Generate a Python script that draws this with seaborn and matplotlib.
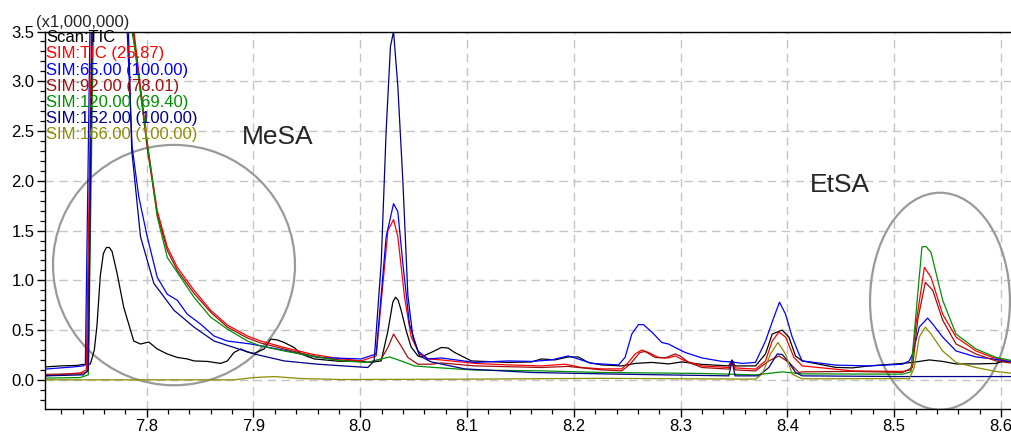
import pandas as pd
import matplotlib
matplotlib.use("Agg")
import matplotlib.pyplot as plt
import seaborn as sns
from matplotlib.patches import Ellipse
from matplotlib.ticker import MultipleLocator, FormatStrFormatter


TRACES = ["Scan:TIC", "SIM:TIC", "SIM:65", "SIM:92", "SIM:120", "SIM:152", "SIM:166"]
LEGEND_LABELS = [
    "Scan:TIC",
    "SIM:TIC (25.87)",
    "SIM:65.00 (100.00)",
    "SIM:92.00 (78.01)",
    "SIM:120.00 (69.40)",
    "SIM:152.00 (100.00)",
    "SIM:166.00 (100.00)",
]
COLORS = ["#000000", "#ff0000", "#0000ff", "#a00f0f", "#008f00", "#00008b", "#8c8c00"]

# retention time (min) / intensity (x1,000,000)
scan_tic_t = [7.705, 7.720, 7.735, 7.740, 7.744, 7.7473, 7.7510, 7.7535, 7.7566, 7.7595, 7.7623,
              7.7650, 7.7676, 7.7723, 7.7785, 7.7879, 7.7942, 7.802, 7.8099, 7.8193, 7.8287, 7.838,
              7.8443, 7.8568, 7.8693, 7.8756, 7.8818, 7.8881, 7.8944, 7.9006, 7.910, 7.9163, 7.9226,
              7.9288, 7.9381, 7.9444, 7.957, 7.982, 8.0008, 8.0071, 8.013, 8.0196, 8.0259, 8.0305,
              8.033, 8.0355, 8.0383, 8.0431, 8.0477, 8.054, 8.0571, 8.0665, 8.0759, 8.0822, 8.0884,
              8.1041, 8.1385, 8.1604, 8.1698, 8.1823, 8.1948, 8.2042, 8.2136, 8.2261, 8.2449, 8.2574,
              8.2731, 8.2887, 8.3012, 8.320, 8.3451, 8.3482, 8.351, 8.3701, 8.3795, 8.3858, 8.3951,
              8.4014, 8.4076, 8.4139, 8.4452, 8.4609, 8.4765, 8.5078, 8.5172, 8.5329, 8.5454, 8.5579,
              8.5766, 8.5954, 8.6017, 8.612]
scan_tic_y = [0.13, 0.14, 0.145, 0.155, 0.15, 0.16, 0.30, 0.55, 1.05, 1.27, 1.33,
              1.33, 1.29, 1.07, 0.73, 0.39, 0.36, 0.38, 0.31, 0.26, 0.225, 0.21,
              0.19, 0.185, 0.165, 0.19, 0.275, 0.31, 0.28, 0.265, 0.31, 0.41, 0.40,
              0.375, 0.325, 0.26, 0.21, 0.185, 0.19, 0.175, 0.18, 0.19, 0.49, 0.78,
              0.83, 0.80, 0.70, 0.49, 0.33, 0.24, 0.23, 0.275, 0.325, 0.32, 0.275,
              0.19, 0.175, 0.18, 0.21, 0.20, 0.23, 0.23, 0.175, 0.15, 0.14, 0.165,
              0.175, 0.16, 0.18, 0.155, 0.14, 0.20, 0.14, 0.14, 0.26, 0.46, 0.50,
              0.43, 0.24, 0.19, 0.125, 0.12, 0.14, 0.165, 0.175, 0.20, 0.185, 0.16,
              0.16, 0.165, 0.185, 0.19]

sim_tic_t = [7.705, 7.7379, 7.7435, 7.748, 7.750, 7.7879, 7.8005, 7.8099, 7.8193, 7.8287, 7.8443,
             7.8599, 7.8756, 7.8944, 7.9069, 7.9288, 7.9538, 7.9757, 8.0008, 8.0149, 8.0259,
             8.0312, 8.0352, 8.0415, 8.0477, 8.0556, 8.0634, 8.0759, 8.1072, 8.1385, 8.1698,
             8.1917, 8.2073, 8.2261, 8.2449, 8.2511, 8.2574, 8.2637, 8.2699, 8.2793, 8.2887,
             8.2949, 8.3043, 8.320, 8.3451, 8.3482, 8.351, 8.3701, 8.3795, 8.3858, 8.3921,
             8.3983, 8.4061, 8.4139, 8.4609, 8.5078, 8.5157, 8.5204, 8.5283, 8.5345, 8.5454,
             8.5579, 8.5766, 8.5923, 8.612]
sim_tic_y = [0.04, 0.07, 0.10, 3.2, 6.0, 3.52, 2.38, 1.70, 1.335, 1.13, 0.90,
             0.70, 0.55, 0.44, 0.39, 0.325, 0.26, 0.22, 0.19, 0.24, 1.50,
             1.61, 1.44, 0.83, 0.43, 0.26, 0.21, 0.20, 0.165, 0.15, 0.14,
             0.157, 0.124, 0.11, 0.11, 0.175, 0.26, 0.30, 0.275, 0.225, 0.22,
             0.24, 0.19, 0.14, 0.124, 0.185, 0.12, 0.108, 0.19, 0.39, 0.48,
             0.43, 0.225, 0.14, 0.09, 0.084, 0.10, 0.56, 1.13, 1.03, 0.66,
             0.43, 0.29, 0.225, 0.175]

sim_65_t = [7.705, 7.7316, 7.7407, 7.7426, 7.747, 7.749, 7.7817, 7.7864, 7.7926, 7.8005, 7.8099,
            7.8193, 7.8287, 7.838, 7.8505, 7.8631, 7.8756, 7.8975, 7.932, 7.9601, 8.0008, 8.0149,
            8.0243, 8.0312, 8.0352, 8.0399, 8.0461, 8.054, 8.0634, 8.0759, 8.1072, 8.1385, 8.1604,
            8.1792, 8.1948, 8.2011, 8.2167, 8.2418, 8.248, 8.2543, 8.2605, 8.2652, 8.2731, 8.2824,
            8.2887, 8.2949, 8.3043, 8.320, 8.3388, 8.3482, 8.3576, 8.3701, 8.3795, 8.3874, 8.3926,
            8.3983, 8.4045, 8.4108, 8.4139, 8.4452, 8.4765, 8.5078, 8.5141, 8.5172, 8.5235, 8.5313,
            8.5361, 8.5454, 8.5579, 8.5766, 8.5923, 8.612]
sim_65_y = [0.108, 0.13, 0.14, 0.16, 3.6, 6.5, 3.52, 2.34, 1.84, 1.44, 1.03,
            0.86, 0.80, 0.66, 0.56, 0.44, 0.39, 0.36, 0.29, 0.225, 0.21, 0.26,
            1.44, 1.77, 1.69, 1.17, 0.56, 0.29, 0.21, 0.22, 0.175, 0.19, 0.185,
            0.20, 0.24, 0.22, 0.165, 0.15, 0.225, 0.46, 0.555, 0.555, 0.48, 0.375,
            0.36, 0.325, 0.275, 0.22, 0.185, 0.18, 0.165, 0.175, 0.39, 0.63, 0.78,
            0.66, 0.43, 0.26, 0.19, 0.148, 0.14, 0.157, 0.19, 0.26, 0.53, 0.62,
            0.56, 0.43, 0.29, 0.23, 0.21, 0.175]

sim_92_t = [7.705, 7.7379, 7.7444, 7.749, 7.751, 7.7879, 7.8005, 7.8099, 7.8193, 7.8287, 7.8443,
            7.8599, 7.8756, 7.8944, 7.9069, 7.9288, 7.9538, 7.9757, 8.0071, 8.0196, 8.0259,
            8.0312, 8.0383, 8.0446, 8.054, 8.0665, 8.0759, 8.1072, 8.1698, 8.1948, 8.2261,
            8.2449, 8.2527, 8.262, 8.2667, 8.2762, 8.2855, 8.2949, 8.2996, 8.3075, 8.320,
            8.3451, 8.3482, 8.351, 8.3701, 8.3826, 8.3921, 8.4014, 8.4108, 8.4139, 8.4609,
            8.5078, 8.5172, 8.522, 8.5292, 8.5361, 8.5454, 8.5579, 8.5766, 8.5954, 8.612]
sim_92_y = [0.055, 0.06, 0.08, 3.4, 5.5, 3.45, 2.33, 1.66, 1.30, 1.10, 0.87,
            0.68, 0.53, 0.42, 0.37, 0.31, 0.245, 0.205, 0.175, 0.21, 0.325,
            0.46, 0.34, 0.225, 0.157, 0.157, 0.17, 0.14, 0.124, 0.135, 0.10,
            0.09, 0.157, 0.275, 0.285, 0.225, 0.22, 0.26, 0.24, 0.175, 0.124,
            0.108, 0.17, 0.10, 0.09, 0.19, 0.24, 0.175, 0.074, 0.08, 0.085,
            0.074, 0.124, 0.60, 0.98, 0.90, 0.60, 0.36, 0.26, 0.19, 0.165]

sim_120_t = [7.705, 7.7379, 7.7454, 7.750, 7.752, 7.7879, 7.8099, 7.8193, 7.8443, 7.8599, 7.8756,
             7.8944, 7.9069, 7.9288, 7.9538, 7.982, 8.0071, 8.013, 8.0274, 8.0383, 8.0508,
             8.0696, 8.1072, 8.1698, 8.2261, 8.320, 8.3701, 8.3951, 8.4139, 8.5078, 8.5157,
             8.5204, 8.526, 8.5298, 8.5345, 8.5454, 8.5579, 8.5766, 8.5954, 8.612]
sim_120_y = [0.017, 0.023, 0.05, 3.5, 5.5, 3.40, 1.64, 1.23, 0.83, 0.63, 0.51,
             0.39, 0.34, 0.29, 0.24, 0.19, 0.175, 0.19, 0.23, 0.19, 0.14,
             0.124, 0.098, 0.09, 0.074, 0.064, 0.05, 0.08, 0.06, 0.057, 0.08,
             0.66, 1.335, 1.34, 1.28, 0.80, 0.46, 0.31, 0.225, 0.19]

sim_152_t = [7.705, 7.7407, 7.7454, 7.749, 7.751, 7.7829, 7.786, 7.7942, 7.8067, 7.8255, 7.8443,
             7.8631, 7.8818, 7.9006, 7.9288, 7.9601, 8.0071, 8.013, 8.0196, 8.0243, 8.0283,
             8.0312, 8.0352, 8.0399, 8.0446, 8.0493, 8.0556, 8.0665, 8.0978, 8.1604, 8.2418,
             8.3451, 8.3482, 8.351, 8.3732, 8.3826, 8.3905, 8.3951, 8.4014, 8.4076, 8.4139,
             8.5078, 8.612]
sim_152_y = [0.04, 0.05, 0.10, 3.6, 6.0, 3.52, 2.31, 1.44, 0.97, 0.70, 0.53,
             0.39, 0.325, 0.26, 0.19, 0.157, 0.124, 0.19, 1.17, 2.51, 3.35,
             3.50, 2.95, 2.0, 0.85, 0.43, 0.24, 0.18, 0.11, 0.074, 0.057,
             0.04, 0.19, 0.04, 0.04, 0.124, 0.26, 0.255, 0.175, 0.074, 0.04,
             0.033, 0.033]

sim_166_t = [7.705, 7.8818, 7.9006, 7.9194, 7.9444, 7.982, 8.100, 8.2261, 8.3701, 8.3764, 8.3842,
             8.3911, 8.3983, 8.4045, 8.4139, 8.5078, 8.5141, 8.5188, 8.5235, 8.5292, 8.5345,
             8.5454, 8.5579, 8.5766, 8.5954, 8.612]
sim_166_y = [0.0, 0.0, 0.023, 0.033, 0.013, 0.003, 0.007, 0.015, 0.007, 0.057, 0.26,
             0.375, 0.26, 0.057, 0.01, 0.013, 0.01, 0.124, 0.43, 0.53, 0.46,
             0.29, 0.175, 0.124, 0.084, 0.064]

TIMES = [scan_tic_t, sim_tic_t, sim_65_t, sim_92_t, sim_120_t, sim_152_t, sim_166_t]
VALUES = [scan_tic_y, sim_tic_y, sim_65_y, sim_92_y, sim_120_y, sim_152_y, sim_166_y]

# circled compound regions: (label, center time, center intensity, width, height)
MESA = ("MeSA", 7.8256, 1.153, 0.2266, 2.415)
ETSA = ("EtSA", 8.5429, 0.79, 0.131, 2.18)
MESA_LABEL_POS = (7.923, 2.44)
ETSA_LABEL_POS = (8.449, 1.96)


def build_frame():
    frames = []
    for name, t, y in zip(TRACES, TIMES, VALUES):
        frames.append(pd.DataFrame({"time": t, "intensity": y, "trace": name}))
    return pd.concat(frames, ignore_index=True)


def main():
    sns.set_theme(style="white")
    plt.rcParams["font.family"] = ["Liberation Sans", "DejaVu Sans"]

    df = build_frame()
    W, H = 1011, 437
    fig = plt.figure(figsize=(W / 100, H / 100), dpi=100)
    ax = fig.add_axes([45 / W, 1 - 408.5 / H, 1 - 45 / W, (408.5 - 31.5) / H])

    sns.lineplot(
        data=df,
        x="time",
        y="intensity",
        hue="trace",
        hue_order=TRACES,
        palette=dict(zip(TRACES, COLORS)),
        estimator=None,
        sort=False,
        legend=False,
        linewidth=0.9,
        ax=ax,
    )

    ax.set_xlim(7.7048, 8.6094)
    ax.set_ylim(-0.288, 3.5)
    ax.set_xlabel("")
    ax.set_ylabel("")

    ax.xaxis.set_major_locator(MultipleLocator(0.1))
    ax.xaxis.set_minor_locator(MultipleLocator(0.02))
    ax.yaxis.set_major_locator(MultipleLocator(0.5))
    ax.yaxis.set_minor_locator(MultipleLocator(0.1))
    ax.xaxis.set_major_formatter(FormatStrFormatter("%.1f"))
    ax.yaxis.set_major_formatter(FormatStrFormatter("%.1f"))
    ax.tick_params(which="major", direction="out", length=5.5, width=1, labelsize=12,
                   color="black", labelcolor="black", pad=2, bottom=True, left=True)
    ax.tick_params(which="minor", direction="out", length=3.5, width=0.9,
                   color="black", bottom=True, left=True)

    ax.grid(which="major", linestyle=(0, (6, 4)), color="#c4c4c4", linewidth=1.0)
    ax.set_axisbelow(True)
    for side in ["left", "bottom", "top"]:
        ax.spines[side].set_color("black")
        ax.spines[side].set_linewidth(1.0)
    ax.spines["right"].set_visible(False)

    for label, cx, cy, w, h in [MESA, ETSA]:
        ax.add_patch(Ellipse((cx, cy), w, h, fill=False, edgecolor="#9a9a9a", linewidth=1.6))
    ax.text(*MESA_LABEL_POS, MESA[0], fontsize=19, ha="center", va="center")
    ax.text(*ETSA_LABEL_POS, ETSA[0], fontsize=19, ha="center", va="center")

    for i, (label, color) in enumerate(zip(LEGEND_LABELS, COLORS)):
        y_px = 37.7 + i * 16.2
        fig.text(46 / W, 1 - y_px / H, label, color=color, fontsize=12, va="center", ha="left")

    fig.text(36 / W, 1 - 22.5 / H, "(x1,000,000)", fontsize=12, va="center", ha="left")

    fig.savefig("out.png", dpi=100)
    plt.close(fig)


if __name__ == "__main__":
    main()
